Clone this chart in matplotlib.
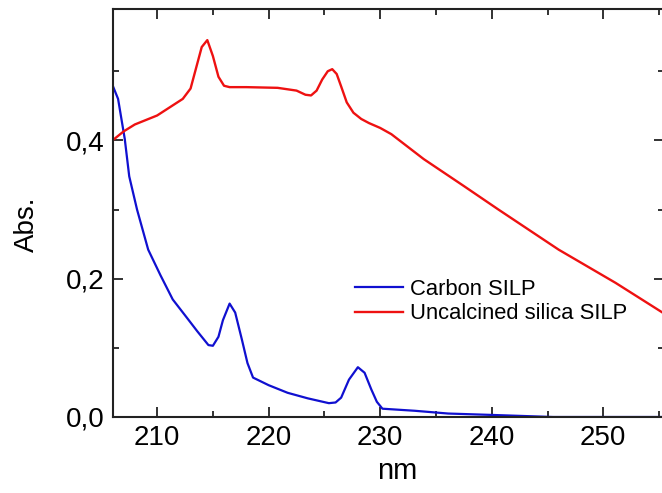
import matplotlib
matplotlib.use('Agg')
import matplotlib.pyplot as plt
from matplotlib.ticker import MultipleLocator, FuncFormatter

plt.rcParams['font.family'] = ['Liberation Sans', 'DejaVu Sans']

# Carbon SILP (blue)
carbon_nm = [206.0, 206.5, 207.1, 207.5, 208.2, 209.2, 210.3, 211.4, 212.6, 213.6, 214.6, 215.0,
             215.5, 215.9, 216.5, 217.0, 217.6, 218.1, 218.6, 220.0, 221.7, 223.5, 225.4, 226.0,
             226.5, 227.2, 228.0, 228.6, 229.2, 229.7, 230.2, 233.1, 236.1, 240.0, 245.5, 256.0]
carbon_abs = [0.480, 0.460, 0.402, 0.348, 0.300, 0.242, 0.205, 0.170, 0.145, 0.124, 0.104, 0.103,
              0.116, 0.140, 0.164, 0.151, 0.112, 0.078, 0.057, 0.046, 0.035, 0.027, 0.020, 0.021,
              0.028, 0.054, 0.072, 0.064, 0.040, 0.022, 0.012, 0.009, 0.005, 0.003, 0.0, 0.0]

# Uncalcined silica SILP (red)
silica_nm = [206.0, 207.0, 208.0, 210.0, 212.3, 213.0, 213.5, 214.0, 214.5, 215.0, 215.5, 216.0,
             216.5, 218.0, 220.8, 222.5, 223.3, 223.8, 224.3, 224.8, 225.3, 225.7, 226.1, 226.5,
             227.0, 227.6, 228.3, 229.0, 230.0, 231.0, 233.9, 237.5, 240.6, 246.0, 251.1, 256.0]
silica_abs = [0.400, 0.413, 0.423, 0.436, 0.460, 0.475, 0.505, 0.535, 0.545, 0.522, 0.492, 0.479,
              0.477, 0.477, 0.476, 0.472, 0.466, 0.465, 0.472, 0.488, 0.500, 0.503, 0.496, 0.478,
              0.455, 0.440, 0.431, 0.425, 0.418, 0.409, 0.373, 0.334, 0.300, 0.242, 0.194, 0.144]

fig = plt.figure(figsize=(6.62, 4.93), dpi=100)
ax = fig.add_axes([112.5 / 662, 76 / 493, 551 / 662, 408 / 493])

ax.plot(carbon_nm, carbon_abs, color='#1010d0', lw=1.6, label='Carbon SILP')
ax.plot(silica_nm, silica_abs, color='#ee1111', lw=1.7, label='Uncalcined silica SILP')

ax.set_xlim(206, 255.4)
ax.set_ylim(0, 0.59)
ax.xaxis.set_major_locator(MultipleLocator(10))
ax.xaxis.set_minor_locator(MultipleLocator(5))
ax.yaxis.set_major_locator(MultipleLocator(0.2))
ax.yaxis.set_minor_locator(MultipleLocator(0.1))
ax.yaxis.set_major_formatter(FuncFormatter(lambda v, p: ('%.1f' % v).replace('.', ',')))

ax.tick_params(which='both', direction='in', top=True, right=True, labelsize=20, width=1.3, color='#222222')
ax.tick_params(which='major', length=7.5, pad=6)
ax.tick_params(which='minor', length=4.5)
for s in ax.spines.values():
    s.set_linewidth(1.5)
    s.set_color('#222222')
# the right frame edge falls just outside the picture
ax.spines['right'].set_visible(False)

ax.set_xlabel('nm', fontsize=21)
ax.set_ylabel('Abs.', fontsize=20)
ax.xaxis.set_label_coords(0.517, -0.098)
ax.yaxis.set_label_coords(-0.131, 0.473)

ax.legend(loc='center left', bbox_to_anchor=(0.44, 0.283), frameon=False, fontsize=15.8,
          handlelength=2.2, handletextpad=0.3, labelspacing=0.15, borderpad=0, borderaxespad=0)

fig.savefig('out.png', dpi=100)
